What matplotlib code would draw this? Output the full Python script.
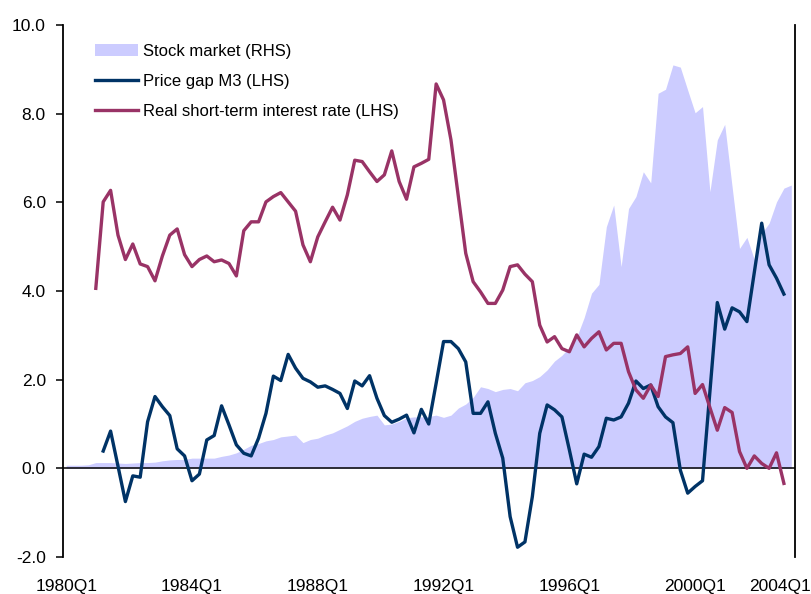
import matplotlib
matplotlib.use("Agg")
import matplotlib.pyplot as plt
from matplotlib.patches import Patch
from matplotlib.lines import Line2D
import numpy as np

plt.rcParams['font.family'] = ['Liberation Sans', 'DejaVu Sans']

# quarterly observations, index 0 = first category on the chart (99 categories)
stock_market = [
    0.07, 0.07, 0.07, 0.08, 0.13, 0.13, 0.13, 0.12, 0.11, 0.12,
    0.13, 0.13, 0.14, 0.17, 0.19, 0.20, 0.20, 0.23, 0.23, 0.23,
    0.23, 0.27, 0.30, 0.35, 0.43, 0.52, 0.56, 0.62, 0.65, 0.71,
    0.73, 0.75, 0.58, 0.65, 0.68, 0.75, 0.80, 0.88, 0.96, 1.06,
    1.13, 1.17, 1.20, 0.98, 1.00, 1.06, 1.14, 1.16, 1.16, 1.17,
    1.20, 1.15, 1.20, 1.36, 1.45, 1.60, 1.84, 1.80, 1.73, 1.78,
    1.80, 1.75, 1.93, 1.98, 2.07, 2.22, 2.42, 2.55, 2.73, 2.96,
    3.40, 3.95, 4.15, 5.45, 5.94, 4.55, 5.86, 6.13, 6.69, 6.44,
    8.46, 8.55, 9.10, 9.05, 8.53, 8.02, 8.16, 6.24, 7.41, 7.76,
    6.35, 4.96, 5.21, 4.71, 5.30, 5.53, 6.01, 6.32, 6.39,
]

# price gap M3 starts at category 5
price_gap_start = 5
price_gap_m3 = [
    0.39, 0.84, 0.05, -0.75, -0.17, -0.20, 1.05, 1.62, 1.39, 1.19,
    0.44, 0.28, -0.28, -0.13, 0.64, 0.74, 1.41, 0.98, 0.53, 0.34,
    0.28, 0.68, 1.24, 2.08, 1.98, 2.57, 2.26, 2.03, 1.95, 1.83,
    1.86, 1.78, 1.69, 1.35, 1.97, 1.86, 2.09, 1.58, 1.19, 1.04,
    1.11, 1.20, 0.80, 1.33, 1.00, 1.92, 2.86, 2.86, 2.70, 2.40,
    1.24, 1.24, 1.50, 0.79, 0.23, -1.09, -1.78, -1.66, -0.64, 0.79,
    1.43, 1.32, 1.16, 0.42, -0.35, 0.32, 0.25, 0.49, 1.13, 1.09,
    1.16, 1.47, 1.97, 1.80, 1.88, 1.39, 1.16, 1.03, -0.04, -0.56,
    -0.41, -0.28, 1.73, 3.74, 3.14, 3.62, 3.53, 3.31, 4.42, 5.53,
    4.59, 4.29, 3.93,
]

# real short-term interest rate starts at category 4
real_rate_start = 4
real_rate = [
    4.06, 6.01, 6.27, 5.26, 4.71, 5.06, 4.61, 4.55, 4.23, 4.79,
    5.26, 5.40, 4.82, 4.55, 4.71, 4.79, 4.66, 4.70, 4.62, 4.34,
    5.36, 5.56, 5.56, 6.01, 6.13, 6.22, 6.01, 5.80, 5.04, 4.66,
    5.22, 5.56, 5.89, 5.60, 6.17, 6.95, 6.92, 6.69, 6.47, 6.62,
    7.16, 6.47, 6.07, 6.80, 6.88, 6.97, 8.67, 8.31, 7.41, 6.13,
    4.85, 4.21, 3.98, 3.72, 3.72, 4.02, 4.55, 4.59, 4.38, 4.21,
    3.23, 2.85, 2.97, 2.70, 2.63, 3.01, 2.74, 2.93, 3.08, 2.67,
    2.82, 2.82, 2.18, 1.77, 1.58, 1.88, 1.62, 2.52, 2.56, 2.59,
    2.74, 1.69, 1.89, 1.37, 0.86, 1.37, 1.26, 0.38, 0.00, 0.28,
    0.11, 0.00, 0.35, -0.34,
]

tick_labels = ["1980Q1", "1984Q1", "1988Q1", "1992Q1", "1996Q1", "2000Q1", "2004Q1"]
tick_pos = [0, 17, 34, 51, 68, 85, 96.5]

c_stock = '#CCCCFF'
c_gap = '#003366'
c_rate = '#993366'

x_stock = np.arange(len(stock_market))
x_gap = np.arange(len(price_gap_m3)) + price_gap_start
x_rate = np.arange(len(real_rate)) + real_rate_start

fig = plt.figure(figsize=(8.11, 5.94), dpi=100)
ax = fig.add_axes([62.5 / 811, 1 - 557 / 594, 732.5 / 811, 532 / 594])
ax2 = ax.twinx()

# stock market area on the right-hand axis, drawn behind the lines
ax2.fill_between(x_stock, 0, stock_market, color=c_stock, lw=0)
ax2.set_ylim(-2, 10)
ax2.set_yticks([])
for s in ['top', 'bottom', 'left']:
    ax2.spines[s].set_visible(False)
ax2.spines['right'].set_linewidth(1.3)

ax.set_zorder(ax2.get_zorder() + 1)
ax.patch.set_visible(False)

ax.axhline(0, color='black', lw=1.1, zorder=1)
ax.plot(x_gap, price_gap_m3, color=c_gap, lw=2.4, zorder=3)
ax.plot(x_rate, real_rate, color=c_rate, lw=2.4, zorder=3)

ax.set_xlim(-0.5, 98.5)
ax.set_ylim(-2, 10)
ax.set_yticks(np.arange(-2, 10.1, 2))
ax.set_yticklabels([f"{v:.1f}" for v in np.arange(-2, 10.1, 2)])
ax.set_xticks(tick_pos)
ax.set_xticklabels(tick_labels)
ax.tick_params(axis='y', direction='out', length=5, width=1.1, pad=7, labelsize=12.5)
ax.tick_params(axis='x', length=0, pad=15.5, labelsize=12.5)
for s in ['top', 'bottom', 'right']:
    ax.spines[s].set_visible(False)
ax.spines['left'].set_linewidth(1.3)

handles = [
    Patch(facecolor=c_stock, edgecolor='none'),
    Line2D([], [], color=c_gap, lw=2.4),
    Line2D([], [], color=c_rate, lw=2.4),
]
labels = ["Stock market (RHS)", "Price gap M3 (LHS)", "Real short-term interest rate (LHS)"]
ax.legend(handles, labels, loc='upper left', bbox_to_anchor=(95 / 811, 1 - 44 / 594),
          bbox_transform=fig.transFigure, frameon=False, fontsize=12,
          borderpad=0, borderaxespad=0, handlelength=2.6, handletextpad=0.3,
          labelspacing=0.9)

fig.savefig("out.png", dpi=100)
